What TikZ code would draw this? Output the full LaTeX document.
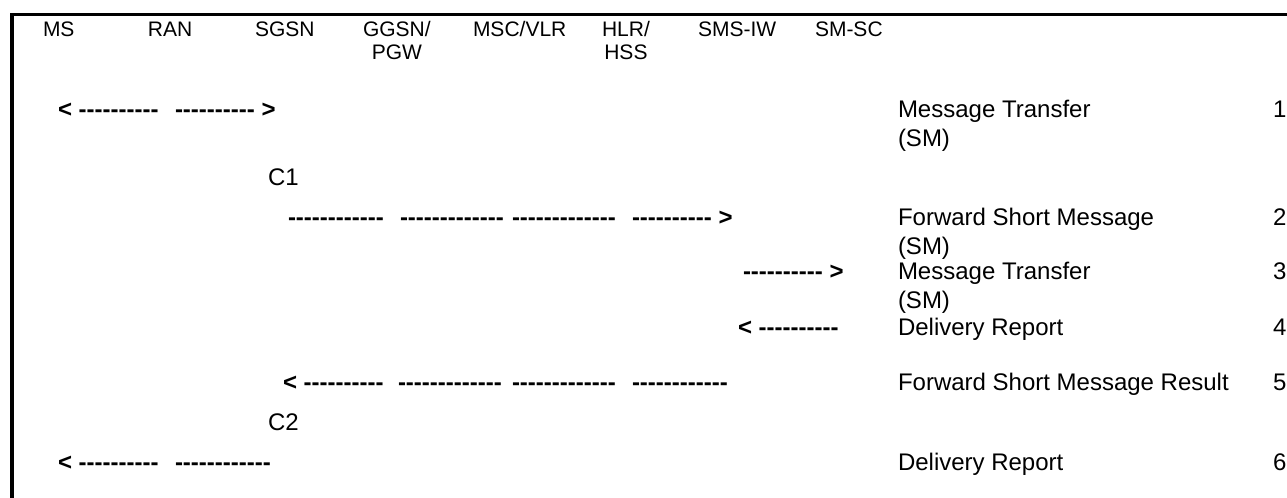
\documentclass[tikz,border=0pt]{standalone}
\usepackage{fontspec}
\setmainfont{Liberation Sans}
\usetikzlibrary{positioning}
\ExplSyntaxOn
\NewDocumentCommand\hy{m}{\prg_replicate:nn{#1}{\mbox{-}}}
\ExplSyntaxOff

\begin{document}
\begin{tikzpicture}[x=0.5pt,y=-0.5pt,
  base/.style={inner sep=0pt,outer sep=0pt,anchor=base west},
  hdr/.style={base,font=\fontsize{10.5}{12}\selectfont,align=center},
  dsh/.style={base,font=\fontsize{12}{14.5}\selectfont\bfseries},
  msg/.style={base,font=\fontsize{12}{14.5}\selectfont,align=left},
  num/.style={base,font=\fontsize{12}{14.5}\selectfont}]
\useasboundingbox (0,0) rectangle (1287,498);
\draw[line width=2pt] (12,13) -- (12,498);
\draw[line width=1.5pt] (10,14.5) -- (1287,14.5);
\node[hdr] (ms) at (43,36) {MS};
\node[hdr] (ran) at (148,36) {RAN};
\node[hdr] (sgsn) at (255,36) {SGSN};
\node[hdr] (ggsn) at (363,60) {GGSN/\\PGW};
\node[hdr] (msc) at (473,36) {MSC/VLR};
\node[hdr] (hlr) at (602,60) {HLR/\\HSS};
\node[hdr] (smsiw) at (698,36) {SMS-IW};
\node[hdr] (smsc) at (815,36) {SM-SC};
\node[dsh] (r1a) at (58,117) {< \hy{10}};
\node[dsh] (r1b) at (175,117) {\hy{10} >};
\node[msg] (t1) at (898,146) {Message Transfer\\(SM)};
\node[num] (n1) at (1273,117) {1};
\node[msg] (c1) at (268,185) {C1};
\node[dsh] (r2a) at (288,225) {\hy{12}};
\node[dsh] (r2b) at (400,225) {\hy{13}};
\node[dsh] (r2c) at (512,225) {\hy{13}};
\node[dsh] (r2d) at (632,225) {\hy{10} >};
\node[msg] (t2) at (898,254) {Forward Short Message\\(SM)};
\node[num] (n2) at (1273,225) {2};
\node[dsh] (r3) at (743,279) {\hy{10} >};
\node[msg] (t3) at (898,308) {Message Transfer\\(SM)};
\node[num] (n3) at (1273,279) {3};
\node[dsh] (r4) at (738,335) {< \hy{10}};
\node[msg] (t4) at (898,335) {Delivery Report};
\node[num] (n4) at (1273,335) {4};
\node[dsh] (r5a) at (283,390) {< \hy{10}};
\node[dsh] (r5b) at (398,390) {\hy{13}};
\node[dsh] (r5c) at (512,390) {\hy{13}};
\node[dsh] (r5d) at (632,390) {\hy{12}};
\node[msg] (t5) at (898,390) {Forward Short Message Result};
\node[num] (n5) at (1273,390) {5};
\node[msg] (c2) at (268,430) {C2};
\node[dsh] (r6a) at (58,470) {< \hy{10}};
\node[dsh] (r6b) at (175,470) {\hy{12}};
\node[msg] (t6) at (898,470) {Delivery Report};
\node[num] (n6) at (1273,470) {6};
\end{tikzpicture}
\end{document}
